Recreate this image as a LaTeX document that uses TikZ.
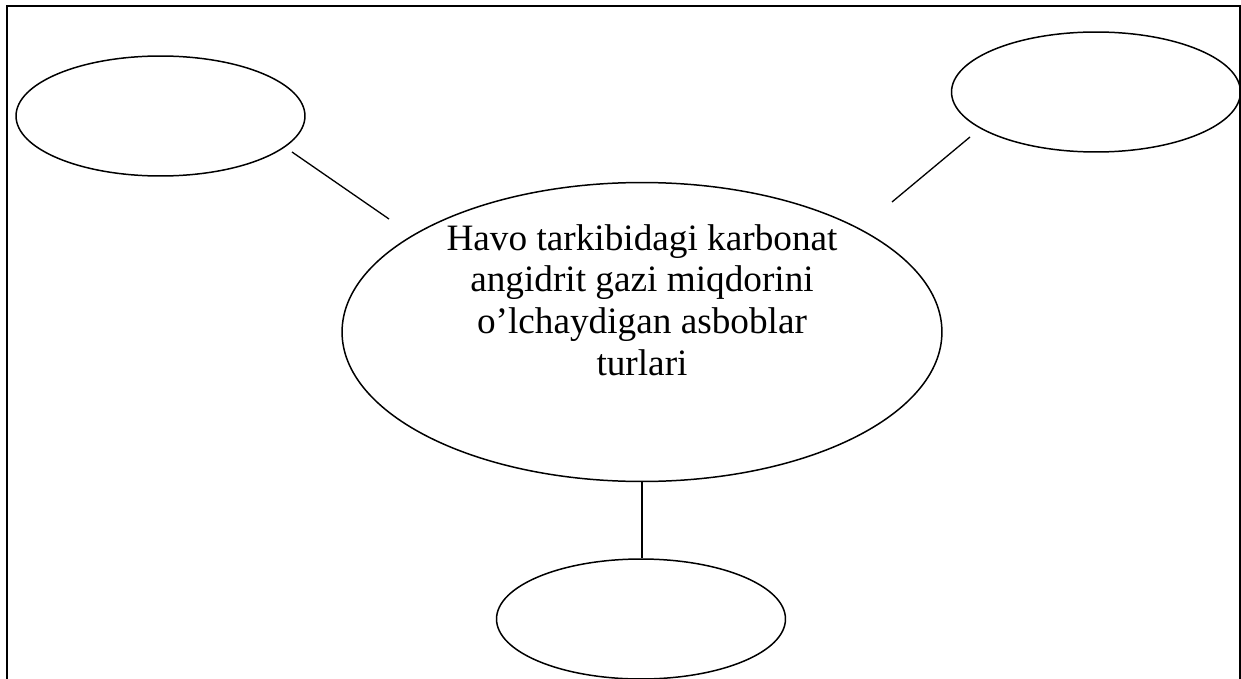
\documentclass[tikz,border=0pt]{standalone}
\usepackage{fontspec}
\setmainfont{Liberation Serif}
\usetikzlibrary{shapes.geometric}

\begin{document}
\begin{tikzpicture}[x=0.02cm, y=-0.02cm]
    \tikzset{
        bubble/.style = {ellipse, draw=black, line width=0.85pt, minimum width=5.78cm, minimum height=2.4cm, inner sep=0pt},
        hub/.style = {ellipse, draw=black, line width=0.85pt, minimum width=12cm, minimum height=5.98cm, inner sep=0pt},
        link/.style = {line width=0.75pt},
        frame/.style = {line width=1.1pt}
    }
    \useasboundingbox (0,0) rectangle (1241,679);
    \draw [frame] (7,700) -- (7,6) -- (1240,6) -- (1240,700);

    \node (center) [hub] at (642,332) {};
    \node (title) [align=center, font=\fontsize{21.2}{23.8}\selectfont] at (642,300) {Havo tarkibidagi karbonat\\angidrit gazi miqdorini\\o’lchaydigan asboblar\\turlari};
    \node (left) [bubble] at (160.5,116) {};
    \node (right) [bubble] at (1096,92) {};
    \node (bottom) [bubble] at (641,619) {};

    \coordinate (leftend) at (292,152);
    \coordinate (leftin) at (389,219);
    \coordinate (rightend) at (970,137);
    \coordinate (rightin) at (892,202);

    \draw [link] (leftend) -- (leftin);
    \draw [link] (rightend) -- (rightin);
    \draw [link] (center.south) -- (center.south |- bottom.north);
\end{tikzpicture}
\end{document}
